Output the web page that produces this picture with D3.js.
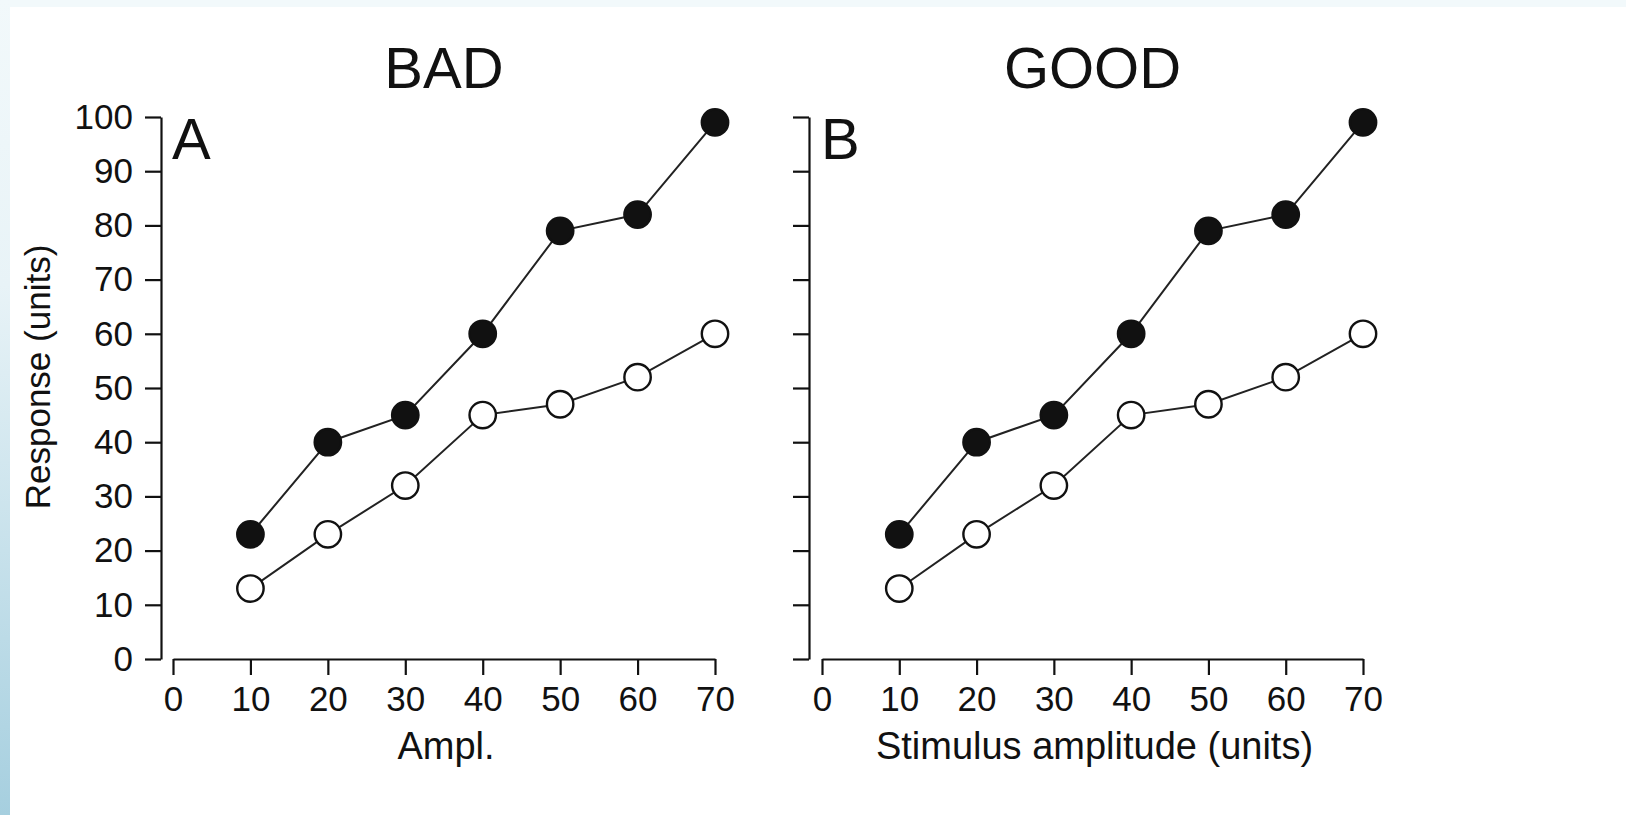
<!DOCTYPE html>
<html>
<head>
<meta charset="utf-8">
<script src="https://cdn.jsdelivr.net/npm/d3@7"></script>
<style>
    html, body { margin: 0; padding: 0; background: #fff; }
    svg { display: block; font-family: "Liberation Sans", Arial, Helvetica, sans-serif; }
</style>
</head>
<body>
<div id="content"></div>
<script>
// values
const amplitudes = [10, 20, 30, 40, 50, 60, 70];
const filledResponse = [23, 40, 45, 60, 79, 82, 99];
const openResponse = [13, 23, 32, 45, 47, 52, 60];
const xTicks = [0, 10, 20, 30, 40, 50, 60, 70];
const yTicks = [0, 10, 20, 30, 40, 50, 60, 70, 80, 90, 100];
const panelTitles = ['BAD', 'GOOD'];
const panelLetters = ['A', 'B'];
const xTitles = ['Ampl.', 'Stimulus amplitude (units)'];
const yTitle = 'Response (units)';

let width = 1626;
let height = 815;
let ink = '#111';

let svg = d3.select('#content').append('svg').attr('width', width).attr('height', height);

// pale blue frame at the top and left
let defs = svg.append('defs');
let grad = defs.append('linearGradient').attr('id', 'side').attr('x1', 0).attr('y1', 0).attr('x2', 0).attr('y2', 1);
grad.append('stop').attr('offset', '0%').attr('stop-color', '#f2f9fb');
grad.append('stop').attr('offset', '35%').attr('stop-color', '#e8f3f7');
grad.append('stop').attr('offset', '100%').attr('stop-color', '#a6cfdf');
svg.append('rect').attr('x', 0).attr('y', 0).attr('width', width).attr('height', 7).attr('fill', '#f2f9fb');
svg.append('rect').attr('x', 0).attr('y', 0).attr('width', 10).attr('height', height).attr('fill', 'url(#side)');

let yScale = d3.scaleLinear().domain([0, 100]).range([659, 117]);
let panels = [
    { yAxisX: 161, xRange: [173, 715], tickLabels: true },
    { yAxisX: 809, xRange: [822, 1363], tickLabels: false }
];

panels.forEach((p, i) => {
    let xScale = d3.scaleLinear().domain([0, 70]).range(p.xRange);
    let g = svg.append('g').attr('class', 'panel');

    let yAxis = d3.axisLeft(yScale).tickValues(yTicks).tickSizeInner(16).tickSizeOuter(0).tickPadding(12);
    if (!p.tickLabels) yAxis.tickFormat('');
    let xAxis = d3.axisBottom(xScale).tickValues(xTicks).tickSizeInner(16).tickSizeOuter(0).tickPadding(11);

    let ya = g.append('g').attr('transform', `translate(${p.yAxisX},0)`).call(yAxis);
    let xa = g.append('g').attr('transform', `translate(0,${yScale(0)})`).call(xAxis);
    [ya, xa].forEach(a => {
        a.select('.domain').attr('stroke', ink).attr('stroke-width', 2.2);
        a.selectAll('.tick line').attr('stroke', ink).attr('stroke-width', 2.2);
        a.selectAll('.tick text').attr('fill', ink).style('font-size', '35px').style('font-family', null);
    });

    // title, panel letter, x axis title
    g.append('text').text(panelTitles[i])
        .attr('x', (p.xRange[0] + p.xRange[1]) / 2).attr('y', 88)
        .attr('text-anchor', 'middle').attr('fill', ink).style('font-size', '58px');
    g.append('text').text(panelLetters[i])
        .attr('x', p.xRange[0] - 1).attr('y', 159)
        .attr('fill', ink).style('font-size', '58px');
    g.append('text').text(xTitles[i])
        .attr('x', (p.xRange[0] + p.xRange[1]) / 2 + 2).attr('y', 759)
        .attr('text-anchor', 'middle').attr('fill', ink).style('font-size', '38px');

    let line = d3.line().x(d => xScale(d[0])).y(d => yScale(d[1]));
    let series = [
        { values: openResponse, fill: '#fff' },
        { values: filledResponse, fill: ink }
    ];
    series.forEach(s => {
        let pts = amplitudes.map((a, k) => [a, s.values[k]]);
        g.append('path').datum(pts).attr('d', line)
            .attr('fill', 'none').attr('stroke', '#222').attr('stroke-width', 2);
        g.selectAll(null).data(pts).enter().append('circle')
            .attr('cx', d => xScale(d[0]))
            .attr('cy', d => yScale(d[1]))
            .attr('r', 13.2)
            .attr('fill', s.fill)
            .attr('stroke', ink)
            .attr('stroke-width', 2.4);
    });
});

svg.append('text').text(yTitle)
    .attr('transform', 'translate(50,377) rotate(-90)')
    .attr('text-anchor', 'middle').attr('fill', ink).style('font-size', '35px');
</script>
</body>
</html>
